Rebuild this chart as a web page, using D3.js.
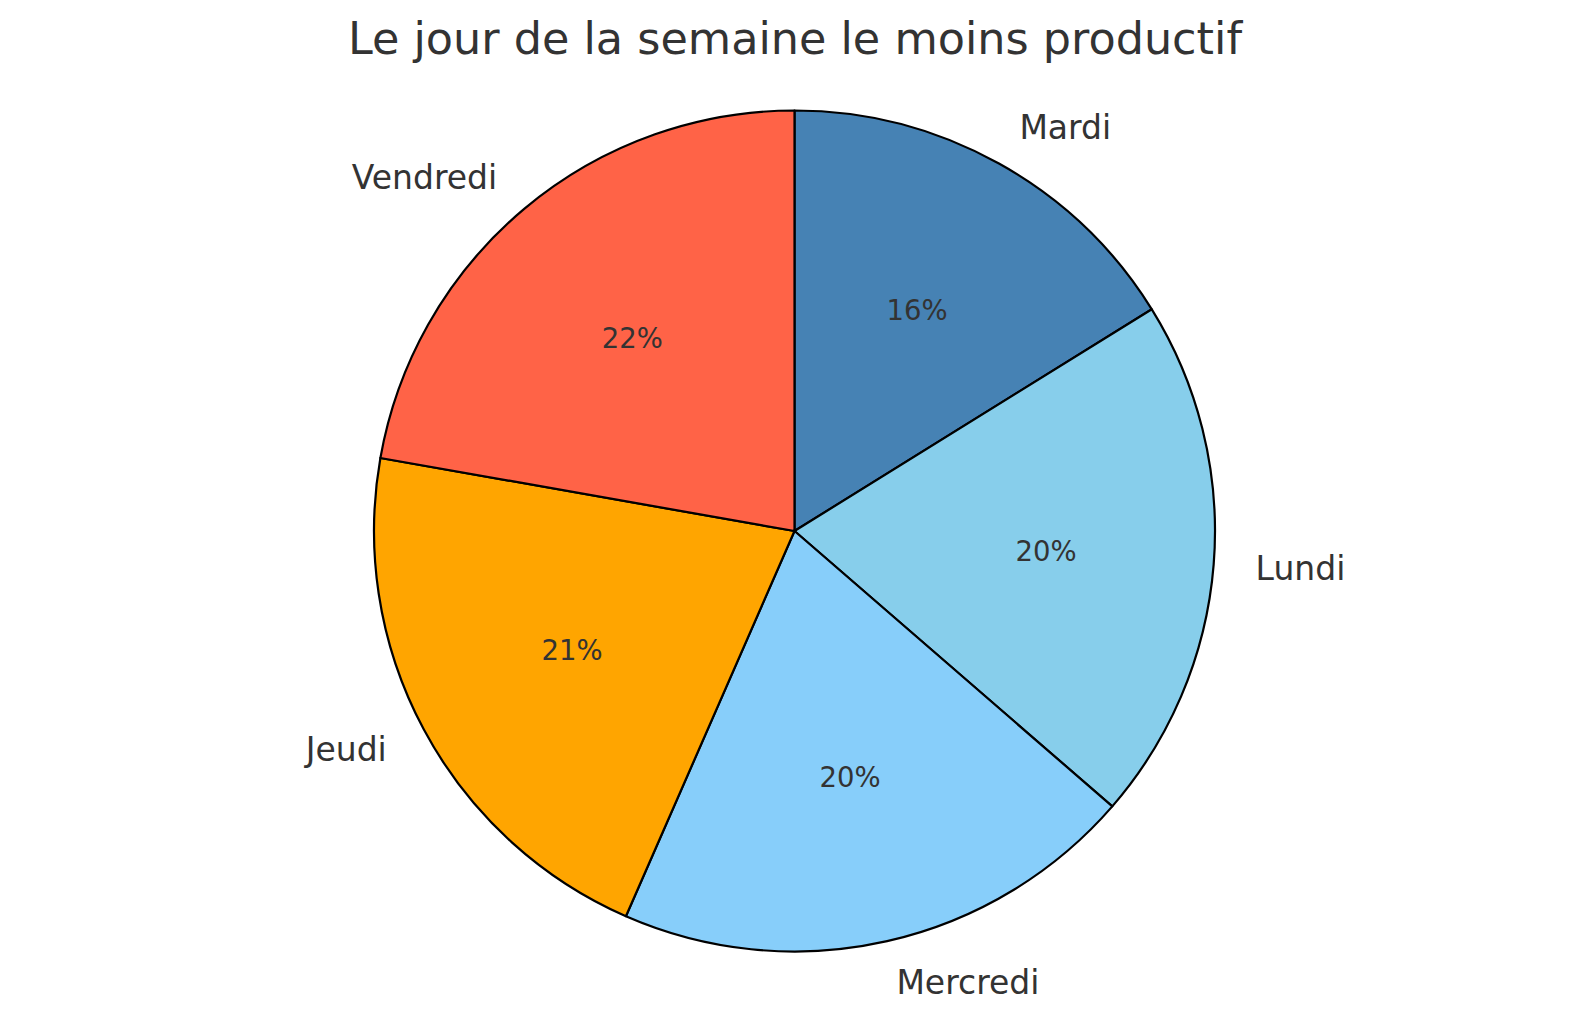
<!DOCTYPE html>
<html>
<head>
<meta charset="utf-8">
<script src="https://cdn.jsdelivr.net/npm/d3@7"></script>
<style>
html,body{margin:0;padding:0;background:#fff;}
svg{display:block;}
</style>
</head>
<body>
<svg id="chart" width="1589" height="1019"></svg>
<script>
// Data (clockwise from top)
const days = ["Mardi", "Lundi", "Mercredi", "Jeudi", "Vendredi"];
const values = [16, 20, 20, 21, 22];
const colors = ["#4682B4", "#87CEEB", "#87CEFA", "#FFA500", "#FF6347"];
const title = "Le jour de la semaine le moins productif";

const W = 1589, H = 1019;
const cx = 794.5, cy = 531, R = 420.5;
const svg = d3.select("#chart");
const font = "'DejaVu Sans', sans-serif";
const textColor = "#333333";

svg.append("text")
  .attr("x", 795).attr("y", 54)
  .attr("text-anchor", "middle")
  .attr("font-family", font).attr("font-size", 44.5)
  .attr("fill", textColor)
  .text(title);

const data = days.map((d, i) => ({label: d, value: values[i], color: colors[i]}));
const pie = d3.pie().value(d => d.value).sort(null).startAngle(0).endAngle(2 * Math.PI);
const arcs = pie(data);
const arc = d3.arc().innerRadius(0).outerRadius(R);
const total = d3.sum(values);

const g = svg.append("g").attr("transform", `translate(${cx},${cy})`);

g.selectAll("path").data(arcs).enter().append("path")
  .attr("d", arc)
  .attr("fill", d => d.data.color)
  .attr("stroke", "#000")
  .attr("stroke-width", 2.2)
  .attr("stroke-linejoin", "round");

function pos(d, k) {
  const a = (d.startAngle + d.endAngle) / 2;
  return [Math.sin(a) * R * k, -Math.cos(a) * R * k];
}

g.selectAll("text.lab").data(arcs).enter().append("text")
  .attr("class", "lab")
  .attr("x", d => pos(d, 1.1)[0])
  .attr("y", d => pos(d, 1.1)[1])
  .attr("dy", "0.36em")
  .attr("text-anchor", d => pos(d, 1.1)[0] < 0 ? "end" : "start")
  .attr("font-family", font).attr("font-size", 33)
  .attr("fill", textColor)
  .text(d => d.data.label);

g.selectAll("text.pct").data(arcs).enter().append("text")
  .attr("class", "pct")
  .attr("x", d => pos(d, 0.6)[0])
  .attr("y", d => pos(d, 0.6)[1])
  .attr("dy", "0.36em")
  .attr("text-anchor", "middle")
  .attr("font-family", font).attr("font-size", 27.5)
  .attr("fill", textColor)
  .text(d => Math.round(d.data.value / total * 100) + "%");
</script>
</body>
</html>
